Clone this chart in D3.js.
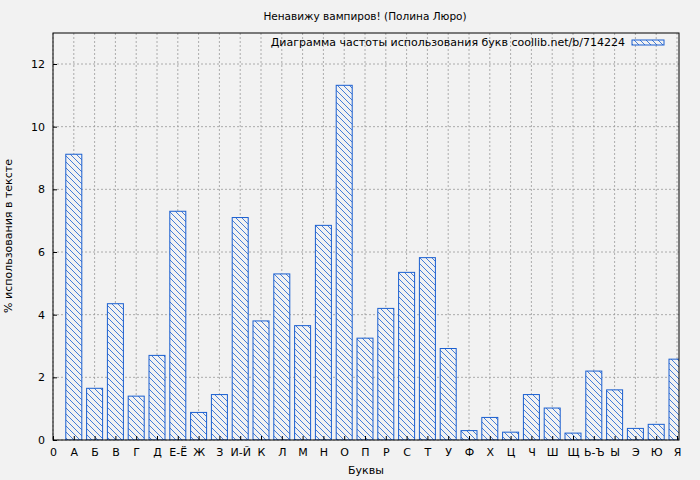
<!DOCTYPE html><html><head><meta charset="utf-8"><script src="https://cdn.jsdelivr.net/npm/d3@7"></script>
<style>body{margin:0;background:#f2f2f2}text{font-family:"DejaVu Sans",sans-serif;font-size:11px;fill:#000}</style></head><body>
<svg id="c" width="700" height="480"></svg>
<script>
const labels=["0","А","Б","В","Г","Д","Е-Ё","Ж","З","И-Й","К","Л","М","Н","О","П","Р","С","Т","У","Ф","Х","Ц","Ч","Ш","Щ","Ь-Ъ","Ы","Э","Ю","Я"];
const letters=labels.slice(1);
const values=[9.12,1.65,4.35,1.4,2.7,7.3,0.88,1.45,7.1,3.8,5.3,3.65,6.85,11.32,3.25,4.2,5.35,5.82,2.92,0.3,0.72,0.25,1.45,1.02,0.22,2.2,1.6,0.37,0.5,2.58];
const yTicks=[0,2,4,6,8,10,12];
const svg=d3.select("#c");
const L=53,R=679,T=33,B=440;
const x=d3.scaleLinear().domain([0,30]).range([L,L+30*20.8]);
const y=d3.scaleLinear().domain([0,12]).range([B,64]);
svg.append("rect").attr("width",700).attr("height",480).attr("fill","#f2f2f2");
const defs=svg.append("defs");
const p=defs.append("pattern").attr("id","h").attr("patternUnits","userSpaceOnUse").attr("width",6).attr("height",6);
p.append("rect").attr("width",6).attr("height",6).attr("fill","#f2f2f2");
p.append("path").attr("d","M-1,-1L7,7M-1,5L1,7M5,-1L7,1").attr("stroke","#1a5fd0").attr("stroke-width",0.8);
defs.append("clipPath").attr("id","cl").append("rect").attr("x",L).attr("y",T).attr("width",R-L).attr("height",B-T);
const g=svg.append("g");
labels.forEach((d,i)=>g.append("line").attr("x1",x(i)).attr("x2",x(i)).attr("y1",T).attr("y2",B).attr("stroke","#999").attr("stroke-dasharray","2,2").attr("stroke-width",0.8));
yTicks.forEach(v=>g.append("line").attr("x1",L).attr("x2",R).attr("y1",y(v)).attr("y2",y(v)).attr("stroke","#999").attr("stroke-dasharray","2,2").attr("stroke-width",0.8));
svg.append("g").attr("clip-path","url(#cl)").selectAll("rect").data(values).join("rect")
 .attr("x",(d,i)=>x(i+1)-8).attr("width",16).attr("y",d=>y(d)).attr("height",d=>B-y(d))
 .attr("fill","url(#h)").attr("stroke","#1a5fd0").attr("stroke-width",1);
svg.append("rect").attr("x",L).attr("y",T).attr("width",R-L).attr("height",B-T).attr("fill","none").attr("stroke","#000");
const ax=svg.append("g").attr("transform",`translate(0,${B})`).call(d3.axisBottom(x).tickValues(d3.range(31)).tickFormat(i=>labels[i]).tickSize(-4).tickPadding(8));
const ay=svg.append("g").attr("transform",`translate(${L},0)`).call(d3.axisLeft(y).tickValues(yTicks).tickSize(-4).tickPadding(8));
[ax,ay].forEach(a=>{a.select(".domain").remove();a.selectAll("text").style("font-family","DejaVu Sans").style("font-size","11px");});
svg.append("text").attr("x",365).attr("y",20).attr("text-anchor","middle").style("font-size","10.5px").text("Ненавижу вампиров! (Полина Люро)");
svg.append("text").attr("x",366).attr("y",474).attr("text-anchor","middle").text("Буквы");
svg.append("text").attr("transform","translate(12,236) rotate(-90)").attr("text-anchor","middle").text("% использования в тексте");
svg.append("text").attr("x",625).attr("y",46).attr("text-anchor","end").text("Диаграмма частоты использования букв coollib.net/b/714224");
svg.append("rect").attr("x",632).attr("y",40).attr("width",32).attr("height",5).attr("fill","url(#h)").attr("stroke","#1a5fd0");
</script></body></html>
